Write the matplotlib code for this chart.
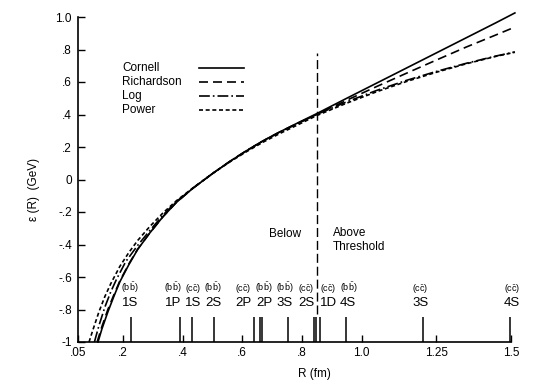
import matplotlib.pyplot as plt

### potential curves: R in fm, E(R) in GeV
cornell_r = [0.117, 0.13, 0.15, 0.17, 0.19, 0.22, 0.25, 0.29, 0.335, 0.38, 0.436, 0.503,
             0.56, 0.615, 0.67, 0.726, 0.79, 0.849, 0.95, 1.05, 1.15, 1.25, 1.35, 1.45, 1.513]
cornell_e = [-1.0, -0.92, -0.815, -0.72, -0.63, -0.525, -0.43, -0.33, -0.228, -0.14, -0.052, 0.04,
             0.113, 0.178, 0.238, 0.293, 0.352, 0.405, 0.50, 0.593, 0.686, 0.779, 0.872, 0.965, 1.025]

richardson_r = [0.114, 0.13, 0.15, 0.17, 0.19, 0.22, 0.25, 0.29, 0.335, 0.38, 0.436, 0.503,
                0.56, 0.615, 0.67, 0.726, 0.79, 0.849, 0.95, 1.05, 1.15, 1.25, 1.35, 1.45, 1.513]
richardson_e = [-1.0, -0.905, -0.80, -0.71, -0.625, -0.52, -0.428, -0.33, -0.228, -0.14, -0.052, 0.04,
                0.113, 0.178, 0.238, 0.293, 0.35, 0.40, 0.488, 0.572, 0.654, 0.735, 0.815, 0.89, 0.938]

log_r = [0.105, 0.12, 0.14, 0.16, 0.18, 0.21, 0.25, 0.29, 0.335, 0.38, 0.436, 0.503,
         0.56, 0.615, 0.67, 0.726, 0.79, 0.849, 0.95, 1.05, 1.15, 1.25, 1.35, 1.45, 1.513]
log_e = [-1.0, -0.90, -0.785, -0.69, -0.61, -0.505, -0.405, -0.315, -0.218, -0.135, -0.052, 0.04,
         0.113, 0.178, 0.238, 0.292, 0.348, 0.40, 0.478, 0.548, 0.61, 0.665, 0.715, 0.76, 0.785]

power_r = [0.087, 0.10, 0.12, 0.14, 0.16, 0.19, 0.22, 0.25, 0.29, 0.335, 0.38, 0.436, 0.503,
           0.56, 0.615, 0.67, 0.726, 0.79, 0.849, 0.95, 1.05, 1.15, 1.25, 1.35, 1.45, 1.513]
power_e = [-1.0, -0.925, -0.815, -0.72, -0.64, -0.535, -0.45, -0.375, -0.29, -0.205, -0.13, -0.05, 0.04,
           0.11, 0.172, 0.23, 0.283, 0.34, 0.393, 0.47, 0.54, 0.603, 0.66, 0.712, 0.758, 0.783]

### rms radii of the quarkonium levels (fm)
level_r = [0.2275, 0.3916, 0.4301, 0.5055, 0.6394, 0.660, 0.667, 0.7533, 0.841, 0.846, 0.8605, 0.9475, 1.2054, 1.4967]

### level labels: flavour, state, label centre (fm)
level_flavour = ['b', 'b', 'c', 'b', 'c', 'b', 'b', 'c', 'c', 'b', 'c', 'c']
level_state = ['1S', '1P', '1S', '2S', '2P', '2P', '3S', '2S', '1D', '4S', '3S', '4S']
label_pos = [0.224, 0.368, 0.435, 0.502, 0.603, 0.673, 0.743, 0.814, 0.888, 0.955, 1.196, 1.503]

threshold = 0.85

xticks = [0.05, 0.2, 0.4, 0.6, 0.8, 1.0, 1.25, 1.5]
xticklabels = ['.05', '.2', '.4', '.6', '.8', '1.0', '1.25', '1.5']
yticks = [-1.0, -0.8, -0.6, -0.4, -0.2, 0.0, 0.2, 0.4, 0.6, 0.8, 1.0]
yticklabels = ['-1', '-.8', '-.6', '-.4', '-.2', '0', '.2', '.4', '.6', '.8', '1.0']

plt.rcParams['font.family'] = ['Liberation Sans', 'DejaVu Sans']
plt.rcParams['mathtext.fontset'] = 'custom'
plt.rcParams['mathtext.rm'] = 'Liberation Sans'

fig = plt.figure(figsize=(5.54, 3.89), dpi=100)
ax = fig.add_axes([78 / 554, 1 - 342 / 389, 433 / 554, 325 / 389])

lw = 1.2
styles = {
    'Cornell': dict(linestyle='-'),
    'Richardson': dict(linestyle=(0, (5.4, 3.0))),
    'Log': dict(linestyle=(0, (6.5, 1.8, 1.0, 1.8))),
    'Power': dict(linestyle=(0, (2.4, 1.6))),
}
curves = [('Cornell', cornell_r, cornell_e), ('Richardson', richardson_r, richardson_e),
          ('Log', log_r, log_e), ('Power', power_r, power_e)]

for name, r, e in curves:
    ax.plot(r, e, color='black', lw=lw, clip_on=False, **styles[name])

### hand made legend: label on the left, line sample on the right
for i, (name, r, e) in enumerate(curves):
    yy = 0.843 - i * 0.043
    ax.text(0.1016, yy, name, transform=ax.transAxes, fontsize=8.5, va='center', ha='left')
    ax.plot([0.2794, 0.3834], [yy, yy], transform=ax.transAxes, color='black', lw=lw,
            clip_on=False, **styles[name])

# threshold line
ax.vlines(threshold, -0.83, 0.778, colors='black', lw=1.0, linestyles=(0, (6.5, 2.8)))
ax.text(0.743, -0.335, 'Below', ha='center', va='center', fontsize=8.5)
ax.text(0.904, -0.33, 'Above', ha='left', va='center', fontsize=8.5)
ax.text(0.904, -0.415, 'Threshold', ha='left', va='center', fontsize=8.5)

# levels
ax.vlines(level_r, -1.0, -0.845, colors='black', lw=1.1)
for fl, st, xp in zip(level_flavour, level_state, label_pos):
    ax.text(xp, -0.668, r'$(\mathrm{%s}\bar{\mathrm{%s}})$' % (fl, fl), ha='center', va='center', fontsize=6.5)
    ax.text(xp, -0.76, st, ha='center', va='center', fontsize=9.5)

ax.set_xlim(0.05, 1.5)
ax.set_ylim(-1.0, 1.0)
ax.set_xticks(xticks)
ax.set_xticklabels(xticklabels)
ax.set_yticks(yticks)
ax.set_yticklabels(yticklabels)
ax.tick_params(direction='in', length=5, width=1.0, labelsize=8.5)
ax.tick_params(axis='x', pad=3.6)
ax.tick_params(axis='y', pad=4.3)
for s in ['top', 'right']:
    ax.spines[s].set_visible(False)
for s in ['left', 'bottom']:
    ax.spines[s].set_linewidth(1.2)

ax.set_xlabel('R (fm)', fontsize=8.5)
ax.xaxis.set_label_coords(0.545, -0.08)
ax.set_ylabel('\u03b5 (R)  (GeV)', fontsize=8.5)
ax.yaxis.set_label_coords(-0.088, 0.47)

fig.savefig('out.png', dpi=100)
